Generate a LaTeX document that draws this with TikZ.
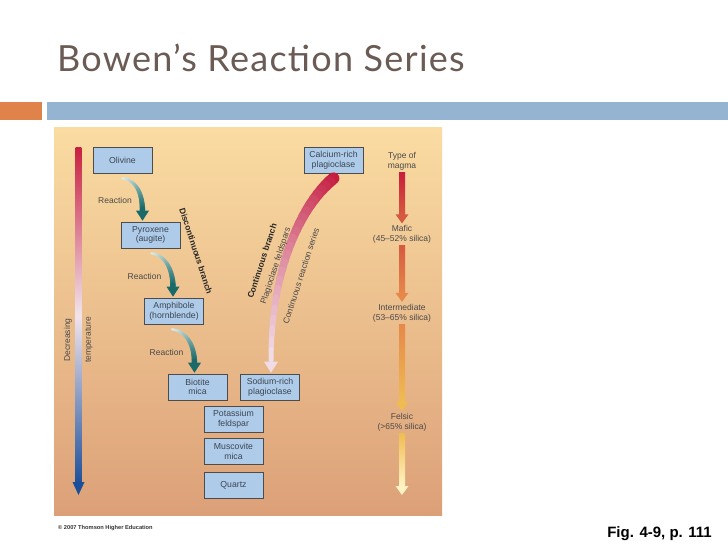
\documentclass[tikz,border=0pt]{standalone}
\usepackage{fontspec}
\setmainfont{Liberation Sans}
\newfontfamily\titlefont[LetterSpace=3.5]{Lato}
\usetikzlibrary{positioning, arrows.meta, calc}
\usepackage{xcolor}

\definecolor{titlegray}{HTML}{6B5B55}
\definecolor{barorange}{HTML}{E0834A}
\definecolor{barblue}{HTML}{94B4D1}
\definecolor{paneltop}{HTML}{FADCA2}
\definecolor{panelbot}{HTML}{DCA078}
\definecolor{boxblue}{HTML}{AECBEA}
\definecolor{boxtext}{HTML}{3C4650}
\definecolor{labeltext}{HTML}{4A4A4A}
\definecolor{hotred}{HTML}{C8203F}
\definecolor{palepink}{HTML}{F1E4EC}
\definecolor{coolblue}{HTML}{1C4F9A}
\definecolor{paleteal}{HTML}{E4F4F0}
\definecolor{darkteal}{HTML}{1B6A6A}
\definecolor{contred}{HTML}{C4163A}
\definecolor{contpale}{HTML}{F0DCE6}
\definecolor{magmaA}{HTML}{C81E3A}
\definecolor{magmaB}{HTML}{D65A40}
\definecolor{magmaC}{HTML}{E6884A}
\definecolor{magmaD}{HTML}{F0BC52}
\definecolor{magmaE}{HTML}{FFF3C4}

% curved stroke fading from one colour and width to another
\newcommand{\fadecurve}[8]{%
  \path #1 .. controls #2 and #3 .. #4
    \foreach \k [evaluate=\k as \kpos using \k/24] in {0,...,24} {coordinate[pos=\kpos] (fc\k)};
  \foreach \k in {1,...,24} {%
    \pgfmathtruncatemacro{\kprev}{\k-1}%
    \pgfmathtruncatemacro{\kmix}{100*\k/24}%
    \pgfmathsetmacro{\kwidth}{#7+(#8-#7)*\k/24}%
    \draw[line width=\kwidth pt, color=#6!\kmix!#5, line cap=round] (fc\kprev) -- (fc\k);
  }%
}
% downward arrow head: colour, tip, half width, length
\newcommand{\headdown}[4]{%
  \fill[#1] #2 -- ++({-#3},{-#4}) -- ++({2*#3},0) -- cycle;
}

\begin{document}
\begin{tikzpicture}[
  x=1pt, y=-1pt,
  every node/.style={font=\fontsize{8.5}{10}\selectfont},
  mineral/.style={
    rectangle, draw=black!70, line width=0.6pt, fill=boxblue,
    minimum width=59pt, minimum height=26pt,
    inner sep=0pt, align=center, text=boxtext,
    font=\fontsize{8.7}{9.5}\selectfont
  },
  note/.style={text=labeltext, align=center, inner sep=1pt},
  branch/.style={font=\bfseries\fontsize{8.5}{10}\selectfont, text=black!85, inner sep=0pt},
  slanted/.style={text=labeltext, inner sep=0pt}
]

\useasboundingbox (0,0) rectangle (728,546);
\fill[white] (0,0) rectangle (728,546);

% ---- Slide title and bars ----
\node[anchor=base west, inner sep=0pt, text=titlegray,
  font=\titlefont\fontsize{36}{40}\selectfont] (title) at (57,71)
  {Bowen’s Reaction Series};
\fill[barorange] (0,102) rectangle (42,120);
\fill[barblue] (47,102) rectangle (728,120);

% ---- Figure panel ----
\shade[top color=paneltop, bottom color=panelbot] (54,127) rectangle (442,515);

% ---- Temperature bar (left) ----
\coordinate (temptop) at (78.5,147);
\coordinate (tempend) at (78.5,495);
\shade[top color=hotred, bottom color=coolblue, middle color=palepink]
  ($(temptop)+(-2.8,0)$) rectangle ($(tempend)+(2.8,-11)$);
\headdown{coolblue}{(tempend)}{6}{13}
\node[slanted, rotate=90] (decreasing) at (68,340) {Decreasing};
\node[slanted, rotate=90] (temperature) at (89,340) {temperature};

% ---- Discontinuous branch ----
\node[mineral] (olivine) at (122.5,160) {Olivine};
\node[mineral] (pyroxene) at (150.5,235) {Pyroxene\\(augite)};
\node[mineral] (amphibole) at (174,311) {Amphibole\\(hornblende)};
\node[mineral] (biotite) at (197.5,387) {Biotite\\mica};

% ---- Continuous branch ----
\node[mineral] (calcium) at (333.5,160) {Calcium-rich\\plagioclase};
\node[mineral] (sodium) at (270,387) {Sodium-rich\\plagioclase};

% ---- Low-temperature minerals ----
\node[mineral] (potassium) at (233.5,419) {Potassium\\feldspar};
\node[mineral, below=6pt of potassium] (muscovite) {Muscovite\\mica};
\node[mineral, below=7pt of muscovite] (quartz) {Quartz};

% ---- Reaction arrows ----
\fadecurve{($(olivine.south)+(0,5)$)}{($(olivine.south)+(14,7)$)}
  {($(pyroxene.north)+(-8,-28)$)}{($(pyroxene.north)+(-8,-10)$)}
  {paleteal}{darkteal}{2}{5.5}
\headdown{darkteal}{($(pyroxene.north)+(-8,-1)$)}{6.5}{10}
\fadecurve{($(pyroxene.south)+(1,5)$)}{($(pyroxene.south)+(15,7)$)}
  {($(amphibole.north)+(-1,-28)$)}{($(amphibole.north)+(-1,-10)$)}
  {paleteal}{darkteal}{2}{5.5}
\headdown{darkteal}{($(amphibole.north)+(-1,-1)$)}{6.5}{10}
\fadecurve{($(amphibole.south)+(-2,5)$)}{($(amphibole.south)+(13,7)$)}
  {($(biotite.north)+(-3,-28)$)}{($(biotite.north)+(-3,-10)$)}
  {paleteal}{darkteal}{2}{5.5}
\headdown{darkteal}{($(biotite.north)+(-3,-1)$)}{6.5}{10}

\node[note] (react1) at (115,200) {Reaction};
\node[note] (react2) at (144.5,276) {Reaction};
\node[note] (react3) at (166.5,352) {Reaction};

\node[branch, rotate=-72] (disc) at (196,251) {Discontinuous branch};

% ---- Continuous series band ----
\fadecurve{($(calcium.south)+(0,5)$)}{($(calcium.south)+(-33,32)$)}
  {($(sodium.north)+(1,-104)$)}{($(sodium.north)+(1,-13)$)}
  {contred}{contpale}{12}{5}
\headdown{contpale}{($(sodium.north)+(1,-1)$)}{7}{11}

\node[branch, rotate=72] (contbranch) at (262,261) {Continuous branch};
\node[slanted, rotate=72] (feldspars) at (276,266) {Plagioclase feldspars};
\node[slanted, rotate=72] (contseries) at (301,276) {Continuous reaction series};

% ---- Type of magma column ----
\node[note] (magtype) at (402,161) {Type of\\magma};
\node[note] (mafic) at (402,234.5) {Mafic\\(45–52\% silica)};
\node[note] (intermediate) at (402,313) {Intermediate\\(53–65\% silica)};
\node[note] (felsic) at (402,422) {Felsic\\(>65\% silica)};
\coordinate (magend) at (402,495);

\shade[top color=magmaA, bottom color=magmaB]
  ($(magtype.south)+(-3,1)$) rectangle ($(mafic.north)+(3,-9)$);
\headdown{magmaB}{($(mafic.north)+(0,-1)$)}{6.5}{9}
\shade[top color=magmaB, bottom color=magmaC]
  ($(mafic.south)+(-3,1)$) rectangle ($(intermediate.north)+(3,-9)$);
\headdown{magmaC}{($(intermediate.north)+(0,-1)$)}{6.5}{9}
\shade[top color=magmaC, bottom color=magmaD]
  ($(intermediate.south)+(-3,1)$) rectangle ($(felsic.north)+(3,-9)$);
\headdown{magmaD}{($(felsic.north)+(0,-1)$)}{6.5}{9}
\shade[top color=magmaD, bottom color=magmaE]
  ($(felsic.south)+(-3,1)$) rectangle ($(magend)+(3,-9)$);
\headdown{magmaE}{(magend)}{6.5}{9}

% ---- Credits ----
\node[anchor=base west, inner sep=0pt, font=\bfseries\fontsize{5.7}{6}\selectfont,
  text=black!80] (credit) at (58,529) {© 2007 Thomson Higher Education};
\node[anchor=base east, inner sep=0pt, font=\bfseries\fontsize{15}{16}\selectfont]
  (figref) at (712,537) {Fig. 4-9, p. 111};

\end{tikzpicture}
\end{document}
